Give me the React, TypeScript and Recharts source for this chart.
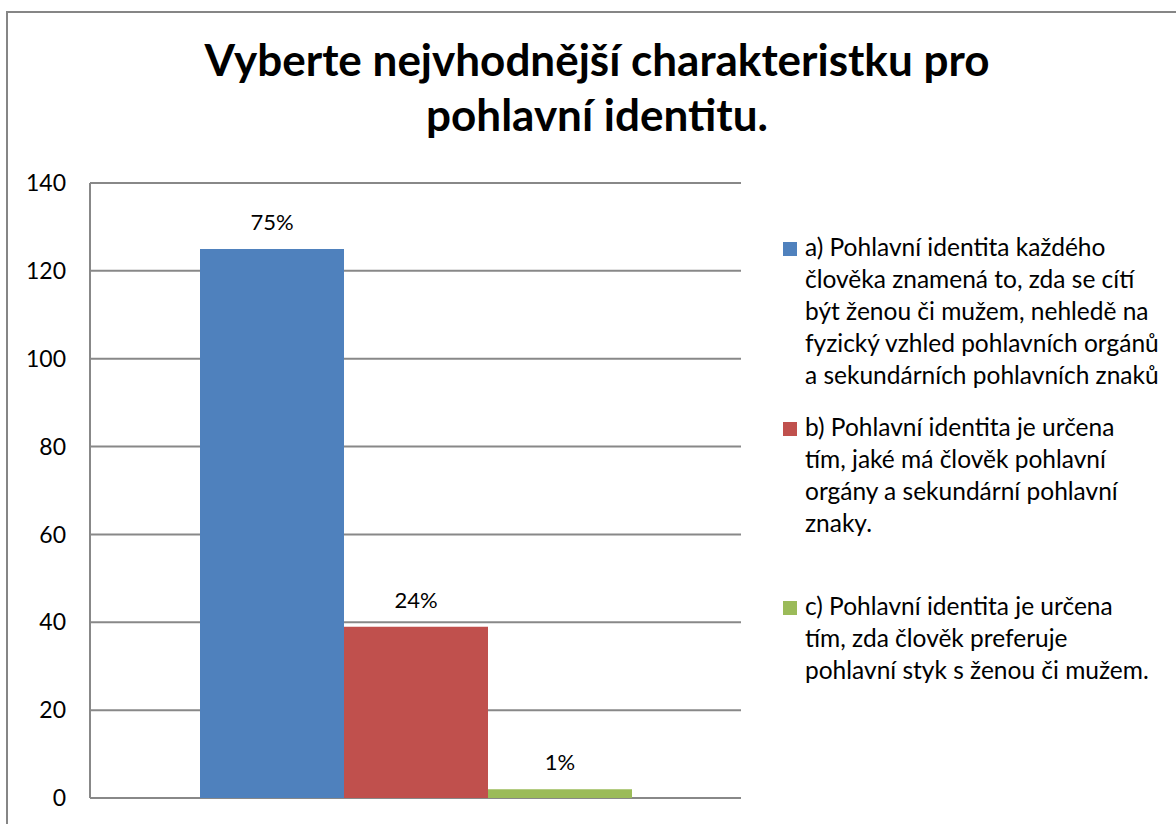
import React from "react";
import {
  BarChart,
  Bar,
  YAxis,
  XAxis,
  CartesianGrid,
  Legend,
  LabelList,
} from "recharts";

const TITLE_LINES = ["Vyberte nejvhodnější charakteristku pro", "pohlavní identitu."];

const CATEGORIES = [""];
const SERIES_KEYS = ["a", "b", "c"];
const SERIES_VALUES = [125, 39, 2];
const SERIES_PERCENTS = ["75%", "24%", "1%"];
const SERIES_COLORS = ["#4F81BD", "#C0504D", "#9BBB59"];
const SERIES_LABELS = [
  "a) Pohlavní identita každého\nčlověka znamená to, zda se cítí\nbýt ženou či mužem, nehledě na\nfyzický vzhled pohlavních orgánů\na sekundárních pohlavních znaků",
  "b) Pohlavní identita je určena\ntím, jaké má člověk pohlavní\norgány a sekundární pohlavní\nznaky.",
  "c) Pohlavní identita je určena\ntím, zda člověk preferuje\npohlavní styk s ženou či mužem.",
];
const Y_TICKS = [0, 20, 40, 60, 80, 100, 120, 140];

const data = CATEGORIES.map((name) => {
  const row: Record<string, string | number> = { name };
  SERIES_KEYS.forEach((k, i) => {
    row[k] = SERIES_VALUES[i];
  });
  return row;
});

const GRID = "#888888";
const ITEM_TOPS = [0, 180, 359];

function LegendBox() {
  return (
    <div style={{ position: "relative", width: 392, height: 480 }}>
      {SERIES_LABELS.map((label, i) => (
        <div
          key={i}
          style={{ position: "absolute", left: 0, top: ITEM_TOPS[i], display: "flex" }}
        >
          <div
            style={{
              width: 14,
              height: 14,
              background: SERIES_COLORS[i],
              marginTop: 11,
              marginRight: 8,
              flex: "none",
            }}
          />
          <div
            style={{
              whiteSpace: "pre",
              fontFamily: "Lato, sans-serif",
              fontSize: 24.5,
              lineHeight: "32px",
              color: "#000",
              textAlign: "left",
            }}
          >
            {label}
          </div>
        </div>
      ))}
    </div>
  );
}

export default function App() {
  return (
    <div
      style={{
        position: "fixed",
        left: 0,
        top: 0,
        width: 1176,
        height: 824,
        background: "#fff",
        overflow: "hidden",
      }}
    >
      <div
        style={{
          position: "absolute",
          left: 6,
          top: 11,
          width: 1200,
          height: 840,
          border: "2px solid #868686",
        }}
      />
      <div
        style={{
          position: "absolute",
          left: 0,
          top: 32,
          width: 1194,
          textAlign: "center",
          fontFamily: "Lato, sans-serif",
          fontWeight: 700,
          fontSize: 44,
          lineHeight: "55px",
          color: "#000",
        }}
      >
        {TITLE_LINES.map((l, i) => (
          <div key={i}>{l}</div>
        ))}
      </div>
      <div style={{ position: "absolute", left: 0, top: 0 }}>
        <BarChart
          width={1176}
          height={824}
          data={data}
          margin={{ top: 183, right: 435, bottom: 26, left: 0 }}
          barGap={0}
        >
          <CartesianGrid vertical={false} stroke={GRID} strokeWidth={2} />
          <XAxis dataKey="name" hide />
          <YAxis
            width={90}
            domain={[0, 140]}
            ticks={Y_TICKS}
            interval={0}
            tickLine={false}
            tickSize={0}
            tickMargin={24}
            axisLine={{ stroke: GRID, strokeWidth: 2 }}
            tick={{ fill: "#000", fontSize: 23, fontFamily: "Lato" }}
          />
          <Legend
            layout="horizontal"
            verticalAlign="middle"
            align="center"
            content={() => <LegendBox />}
            wrapperStyle={{ left: 783, top: 231, width: 392 }}
          />
          {SERIES_KEYS.map((k, i) => (
            <Bar
              key={k}
              dataKey={k}
              fill={SERIES_COLORS[i]}
              barSize={144}
              isAnimationActive={false}
            >
              <LabelList
                dataKey={k}
                position="top"
                offset={19}
                formatter={() => SERIES_PERCENTS[i]}
                style={{ fill: "#000", fontSize: 22, fontFamily: "Lato" }}
              />
            </Bar>
          ))}
        </BarChart>
      </div>
    </div>
  );
}
